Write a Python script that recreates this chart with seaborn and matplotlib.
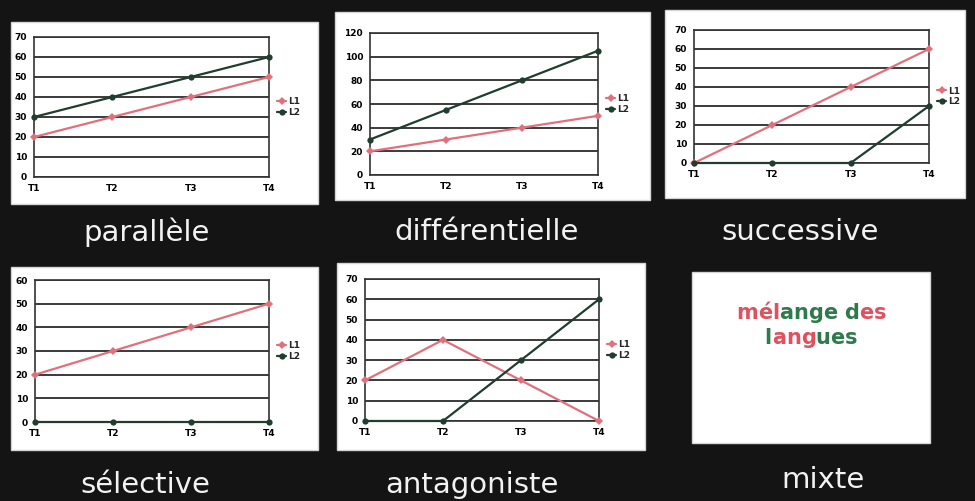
#!/usr/bin/env python
import matplotlib.pyplot as plt
import pandas as pd
import seaborn as sns
from matplotlib.patches import Rectangle

# time points and series
times = ['T1', 'T2', 'T3', 'T4']
series = ['L1', 'L2']

titles = ['parallèle', 'différentielle', 'successive', 'sélective', 'antagoniste']
l1_values = [
    [20, 30, 40, 50],
    [20, 30, 40, 50],
    [0, 20, 40, 60],
    [20, 30, 40, 50],
    [20, 40, 20, 0],
]
l2_values = [
    [30, 40, 50, 60],
    [30, 55, 80, 105],
    [0, 0, 0, 30],
    [0, 0, 0, 0],
    [0, 0, 30, 60],
]
y_max = [70, 120, 70, 60, 70]
y_step = [10, 20, 10, 10, 10]

mix_title = 'mixte'
mix_lines = ['mélange des', 'langues']
mix_colors = ['rrrggggxgrr', 'grrrgggr']

W, H = 975, 501
BG = '#141414'
RED = '#e0707c'
GREEN = '#203d2d'

# pixel layout: (left, top, right, bottom)
boxes = [(11, 22, 318, 204), (335, 12, 650, 200), (665, 10, 965, 198),
         (11, 267, 318, 450), (337, 263, 645, 450)]
axes_px = [(34, 37, 269, 177), (370, 33, 598, 175), (694, 30, 929, 163),
           (35, 280, 269, 422), (365, 279, 599, 421)]
label_pos = [(147, 232), (487, 232), (800, 232), (145, 485), (472, 485)]
mix_box = (692, 272, 930, 443)
mix_label = (823, 480)


def frac(l, t, r, b):
    return [l / W, 1 - b / H, (r - l) / W, (b - t) / H]


def white_box(l, t, r, b):
    fig.add_artist(Rectangle((l / W, 1 - b / H), (r - l) / W, (b - t) / H,
                             transform=fig.transFigure, facecolor='white',
                             edgecolor='#d5d5d5', lw=1, zorder=0))


sns.set_style('white')
plt.rcParams['font.family'] = ['DejaVu Sans']
fig = plt.figure(figsize=(W / 100, H / 100), dpi=100, facecolor=BG)

for i, title in enumerate(titles):
    white_box(*boxes[i])
    df = pd.DataFrame({
        'temps': times * 2,
        'valeur': l1_values[i] + l2_values[i],
        'serie': ['L1'] * 4 + ['L2'] * 4,
    })
    ax = fig.add_axes(frac(*axes_px[i]))
    ax.set_facecolor('white')
    sns.lineplot(data=df, x='temps', y='valeur', hue='serie', style='serie',
                 palette={'L1': RED, 'L2': GREEN}, markers={'L1': 'D', 'L2': 'o'},
                 dashes=False, markersize=4.5, markeredgewidth=0, lw=1.6,
                 sort=False, clip_on=False, zorder=3, ax=ax)
    ax.set_xlim(0, 3)
    ax.set_ylim(0, y_max[i])
    ax.set_yticks(range(0, y_max[i] + 1, y_step[i]))
    ax.yaxis.grid(True, color='#2b2b2b', lw=1.3)
    ax.set_axisbelow(True)
    ax.set_xlabel('')
    ax.set_ylabel('')
    ax.tick_params(labelsize=6.5, length=2, pad=3, colors='black')
    for lab in ax.get_xticklabels() + ax.get_yticklabels():
        lab.set_fontweight('bold')
    for sp in ax.spines.values():
        sp.set_color('#333333')
        sp.set_linewidth(1.2)
    sns.move_legend(ax, 'center left', bbox_to_anchor=(1.0, 0.5), frameon=False,
                    title=None, handlelength=1.0, handletextpad=0.25,
                    labelspacing=0.2, prop={'weight': 'bold', 'size': 6.5})
    x, y = label_pos[i]
    fig.text(x / W, 1 - y / H, title, color='#f2f2f2', fontsize=21,
             ha='center', va='center')

# mixte panel: one letter at a time, alternating colours
white_box(*mix_box)
cmap = {'r': '#e0505e', 'g': '#2e7a4c', 'x': 'white'}
line_y = [0.355, 0.305]
renderer = fig.canvas.get_renderer()


def text_width(s):
    probe = fig.text(0, 0, s, fontsize=15, fontweight='bold')
    w = probe.get_window_extent(renderer).width / W
    probe.remove()
    return w


for line, cols, yy in zip(mix_lines, mix_colors, line_y):
    x0 = 811 / W - text_width(line) / 2
    for k, (ch, c) in enumerate(zip(line, cols)):
        off = text_width(line[:k]) if k else 0
        fig.text(x0 + off, yy, ch, fontsize=15, fontweight='bold',
                 color=cmap[c], va='bottom')

x, y = mix_label
fig.text(x / W, 1 - y / H, mix_title, color='#f2f2f2', fontsize=21,
         ha='center', va='center')

fig.savefig('out.png', dpi=100, facecolor=BG)
